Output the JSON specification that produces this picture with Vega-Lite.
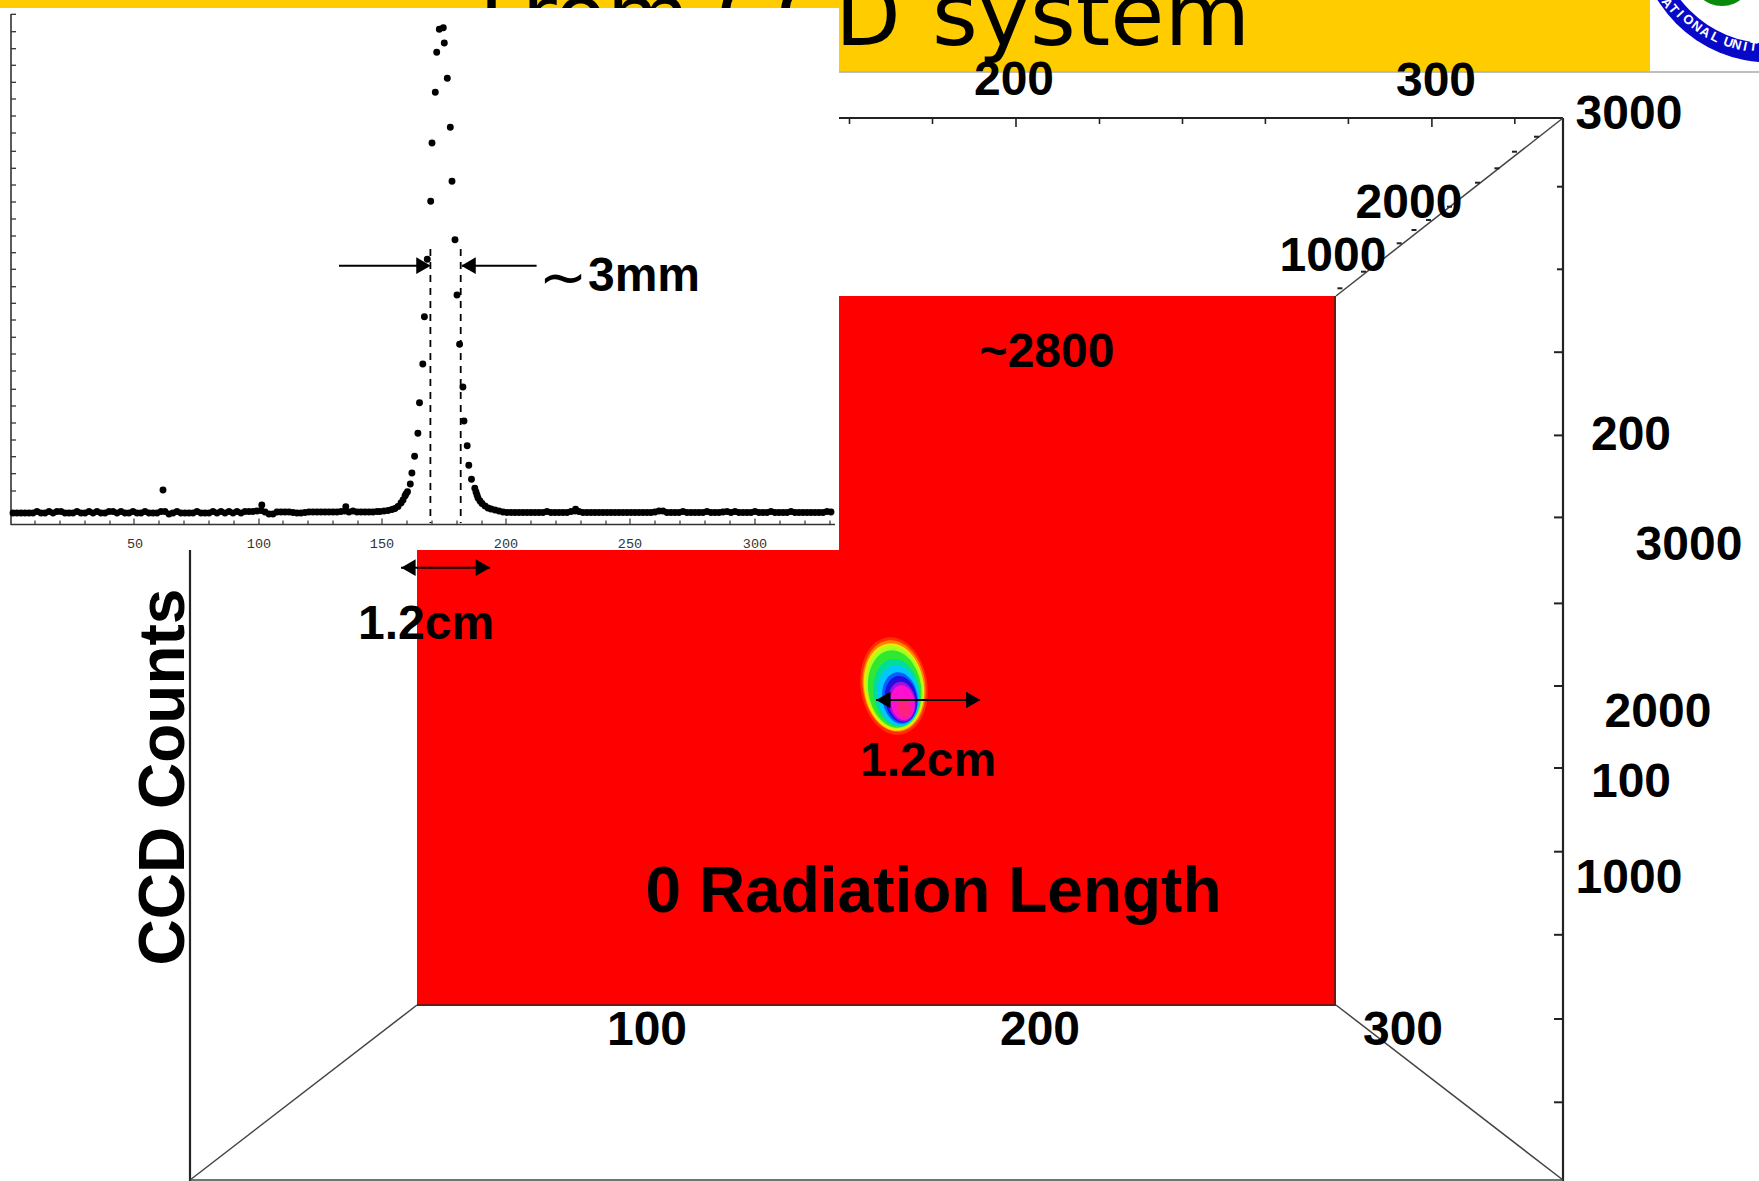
{"$schema":"https://vega.github.io/schema/vega-lite/v6.json","width":1759,"height":1181,"autosize":{"type":"none"},"padding":0,"background":"white","config":{"view":{"stroke":null}},
"encoding":{"x":{"field":"x","type":"quantitative","scale":{"domain":[0,1759],"nice":false,"zero":false},"axis":null},"y":{"field":"y","type":"quantitative","scale":{"domain":[1181,0],"nice":false,"zero":false},"axis":null}},
"layer":[
{"data":{"values":[{"x":0,"x2":1650,"y":0,"y2":71.5}]},"mark":{"type":"rect","color":"#FFCC00"},"encoding":{"x2":{"field":"x2"},"y2":{"field":"y2"}}},
{"data":{"values":[{"x":479,"y":45,"t":"From CCD"}]},"mark":{"type":"text","font":"DejaVu Sans","fontSize":85,"align":"left","baseline":"alphabetic","color":"black"},"encoding":{"text":{"field":"t"}}},
{"data":{"values":[{"x":932,"y":45,"t":"system"}]},"mark":{"type":"text","font":"DejaVu Sans","fontSize":88,"align":"left","baseline":"alphabetic","color":"black"},"encoding":{"text":{"field":"t"}}},
{"data":{"values":[{"x":839,"x2":1759,"y":72,"y2":72}]},"mark":{"type":"rule","color":"#a8a8a8","strokeWidth":1.5},"encoding":{"x2":{"field":"x2"},"y2":{"field":"y2"}}},
{"data":{"values":[{"x":1770,"y":-70}]},"mark":{"type":"point","shape":"circle","filled":true,"color":"#0808c8","size":70225,"opacity":1,"strokeWidth":0}},
{"data":{"values":[{"x":1770,"y":-70}]},"mark":{"type":"point","shape":"circle","filled":true,"color":"white","size":51529,"opacity":1,"strokeWidth":0}},
{"data":{"values":[{"x":1722,"y":-25}]},"mark":{"type":"point","shape":"circle","filled":true,"color":"#0a8a0a","size":3844,"opacity":1,"strokeWidth":0}},
{"data":{"values":[{"x":1667,"y":3,"t":"A","a":55},{"x":1673.3,"y":9.3,"t":"T","a":51},{"x":1680,"y":14,"t":"I","a":47},{"x":1688.3,"y":20,"t":"O","a":42},{"x":1696.7,"y":26.7,"t":"N","a":37},{"x":1705,"y":32.3,"t":"A","a":32},{"x":1715,"y":37.3,"t":"L","a":27},{"x":1728.3,"y":42.7,"t":"U","a":20},{"x":1736.7,"y":45,"t":"N","a":16},{"x":1745,"y":46.7,"t":"I","a":12},{"x":1753.3,"y":46.7,"t":"T","a":8}]},"mark":{"type":"text","font":"Liberation Sans","fontWeight":"bold","fontSize":13,"color":"white","align":"center","baseline":"middle"},"encoding":{"text":{"field":"t"},"angle":{"field":"a","type":"quantitative","scale":null}}},
{"data":{"values":[{"x":190,"y":118,"x2":190,"y2":1181},{"x":190,"y":118,"x2":1563,"y2":118},{"x":1563,"y":118,"x2":1563,"y2":1181}]},"mark":{"type":"rule","color":"#222222","strokeWidth":2.2},"encoding":{"x2":{"field":"x2"},"y2":{"field":"y2"}}},
{"data":{"values":[{"x":190,"y":1180,"x2":1563,"y2":1180},{"x":1563,"y":118,"x2":1336,"y2":296},{"x":1336,"y":1005,"x2":1563,"y2":1180},{"x":417,"y":1005,"x2":190,"y2":1180}]},"mark":{"type":"rule","color":"#444444","strokeWidth":1.5},"encoding":{"x2":{"field":"x2"},"y2":{"field":"y2"}}},
{"data":{"values":[{"x":849.5,"y":118,"y2":124},{"x":932.5,"y":118,"y2":124},{"x":1016,"y":118,"y2":127},{"x":1099.5,"y":118,"y2":124},{"x":1182.5,"y":118,"y2":124},{"x":1265.4,"y":118,"y2":124},{"x":1348.4,"y":118,"y2":124},{"x":1431.9,"y":118,"y2":127},{"x":1514.8,"y":118,"y2":124}]},"mark":{"type":"rule","color":"#222222","strokeWidth":1.6},"encoding":{"y2":{"field":"y2"}}},
{"data":{"values":[{"y":186.7,"x":1557,"x2":1563},{"y":269.3,"x":1557,"x2":1563},{"y":352.2,"x":1554,"x2":1563},{"y":435.4,"x":1554,"x2":1563},{"y":517.4,"x":1554,"x2":1563},{"y":603.4,"x":1554,"x2":1563},{"y":686,"x":1554,"x2":1563},{"y":768,"x":1554,"x2":1563},{"y":851.7,"x":1554,"x2":1563},{"y":934.8,"x":1554,"x2":1563},{"y":1019,"x":1554,"x2":1563},{"y":1102.3,"x":1554,"x2":1563},{"y":136.7,"x":1534,"x2":1539},{"y":151.7,"x":1512,"x2":1517},{"y":168.3,"x":1494.4,"x2":1499.4},{"y":182.7,"x":1475,"x2":1480},{"y":206.7,"x":1447,"x2":1452},{"y":220,"x":1426,"x2":1431},{"y":230,"x":1411.5,"x2":1416.5},{"y":243.3,"x":1396.7,"x2":1401.7},{"y":271.7,"x":1361,"x2":1366},{"y":288.3,"x":1337.4,"x2":1342.4}]},"mark":{"type":"rule","color":"#222222","strokeWidth":2},"encoding":{"x2":{"field":"x2"}}},
{"data":{"values":[{"x":417,"x2":1336,"y":296,"y2":1005}]},"mark":{"type":"rect","color":"#FF0000"},"encoding":{"x2":{"field":"x2"},"y2":{"field":"y2"}}},
{"data":{"values":[{"x":1335,"y":296,"x2":1335,"y2":1005},{"x":417,"y":1005,"x2":1336,"y2":1005}]},"mark":{"type":"rule","color":"#6e1a12","strokeWidth":2},"encoding":{"x2":{"field":"x2"},"y2":{"field":"y2"}}},
{"data":{"values":[{"x":894,"y":686,"level":"a"},{"x":894,"y":686,"level":"b"},{"x":894,"y":687,"level":"c"},{"x":894.5,"y":687,"level":"d"},{"x":894.7,"y":689,"level":"e"},{"x":896.7,"y":692.7,"level":"f"},{"x":898.3,"y":695.7,"level":"g"},{"x":900,"y":698,"level":"h"},{"x":901,"y":699.3,"level":"i"},{"x":902,"y":701.7,"level":"j"},{"x":902.7,"y":702.7,"level":"k"},{"x":904,"y":708.3,"level":"l"}]},"mark":{"type":"point","shape":"M0,-1A0.68,1,0,1,1,0,1A0.68,1,0,1,1,0,-1Z","filled":true,"opacity":1,"strokeWidth":0,"angle":352},"encoding":{"color":{"field":"level","type":"nominal","legend":null,"scale":{"domain":["a","b","c","d","e","f","g","h","i","j","k","l"],"range":["#ff3000","#ff8000","#ffe000","#a8ff20","#30e830","#00dd99","#00c8ff","#0060ff","#2010e0","#a010e0","#ff10d0","#ff2080"]}},"size":{"field":"level","type":"nominal","legend":null,"scale":{"type":"ordinal","domain":["a","b","c","d","e","f","g","h","i","j","k","l"],"range":[9604,8464,7744,7056,6084,4624,3721,2704,2209,1600,1225,400]}}}},
{"data":{"values":[{"x":0,"x2":839,"y":8,"y2":550}]},"mark":{"type":"rect","color":"white"},"encoding":{"x2":{"field":"x2"},"y2":{"field":"y2"}}},
{"data":{"values":[{"x":11,"y":14,"x2":11,"y2":525},{"x":11,"y":524.5,"x2":835,"y2":524.5}]},"mark":{"type":"rule","color":"#333333","strokeWidth":1.6},"encoding":{"x2":{"field":"x2"},"y2":{"field":"y2"}}},
{"data":{"values":[{"x":11,"x2":16,"y":14.3},{"x":11,"x2":16,"y":31.7},{"x":11,"x2":16,"y":48.7},{"x":11,"x2":16,"y":65.3},{"x":11,"x2":16,"y":82.3},{"x":11,"x2":16,"y":99},{"x":11,"x2":16,"y":116},{"x":11,"x2":16,"y":133},{"x":11,"x2":16,"y":151.3},{"x":11,"x2":16,"y":168.3},{"x":11,"x2":16,"y":185},{"x":11,"x2":16,"y":202},{"x":11,"x2":16,"y":219},{"x":11,"x2":16,"y":236},{"x":11,"x2":16,"y":252.7},{"x":11,"x2":16,"y":269.3},{"x":11,"x2":16,"y":286.7},{"x":11,"x2":16,"y":303.3},{"x":11,"x2":16,"y":320},{"x":11,"x2":16,"y":337.3},{"x":11,"x2":16,"y":354},{"x":11,"x2":16,"y":371},{"x":11,"x2":16,"y":389.3},{"x":11,"x2":16,"y":406},{"x":11,"x2":16,"y":423},{"x":11,"x2":16,"y":440},{"x":11,"x2":16,"y":456.7},{"x":11,"x2":16,"y":473.7},{"x":11,"x2":16,"y":491}]},"mark":{"type":"rule","color":"#333333","strokeWidth":1.3},"encoding":{"x2":{"field":"x2"}}},
{"data":{"values":[{"y":524,"y2":520.5,"x":35},{"y":524,"y2":520.5,"x":60},{"y":524,"y2":520.5,"x":85},{"y":524,"y2":520.5,"x":110},{"y":524,"y2":518.5,"x":134},{"y":524,"y2":520.5,"x":159},{"y":524,"y2":520.5,"x":184},{"y":524,"y2":520.5,"x":209},{"y":524,"y2":520.5,"x":234},{"y":524,"y2":518.5,"x":259},{"y":524,"y2":520.5,"x":283},{"y":524,"y2":520.5,"x":308},{"y":524,"y2":520.5,"x":333},{"y":524,"y2":520.5,"x":358},{"y":524,"y2":518.5,"x":382},{"y":524,"y2":520.5,"x":407},{"y":524,"y2":520.5,"x":432},{"y":524,"y2":520.5,"x":457},{"y":524,"y2":520.5,"x":482},{"y":524,"y2":518.5,"x":506},{"y":524,"y2":520.5,"x":531},{"y":524,"y2":520.5,"x":556},{"y":524,"y2":520.5,"x":581},{"y":524,"y2":520.5,"x":606},{"y":524,"y2":518.5,"x":630},{"y":524,"y2":520.5,"x":655},{"y":524,"y2":520.5,"x":680},{"y":524,"y2":520.5,"x":705},{"y":524,"y2":520.5,"x":730},{"y":524,"y2":518.5,"x":755},{"y":524,"y2":520.5,"x":780},{"y":524,"y2":520.5,"x":805},{"y":524,"y2":520.5,"x":830}]},"mark":{"type":"rule","color":"#333333","strokeWidth":1.2},"encoding":{"y2":{"field":"y2"}}},
{"data":{"values":[{"x":430.4,"y":249,"x2":430.4,"y2":523},{"x":460.7,"y":249,"x2":460.7,"y2":523}]},"mark":{"type":"rule","color":"black","strokeWidth":1.8,"strokeDash":[7,6]},"encoding":{"x2":{"field":"x2"},"y2":{"field":"y2"}}},
{"data":{"values":[{"x":443.3,"y":27.7},{"x":439.3,"y":29.3},{"x":444.3,"y":43},{"x":436.7,"y":52.3},{"x":447.3,"y":78.3},{"x":435.3,"y":92.3},{"x":450.3,"y":127.3},{"x":432,"y":143},{"x":452,"y":181.3},{"x":430.7,"y":201.3},{"x":455,"y":239.7},{"x":427.3,"y":259.3},{"x":457,"y":295},{"x":424.4,"y":316.7},{"x":459.6,"y":344.3},{"x":422.8,"y":364},{"x":462.9,"y":387},{"x":419.5,"y":402.7},{"x":464,"y":421},{"x":417.9,"y":433.3},{"x":467.2,"y":445.7},{"x":414.6,"y":456.3},{"x":468.8,"y":465.3},{"x":411.9,"y":473},{"x":471.5,"y":479.3},{"x":410.3,"y":484},{"x":474.8,"y":488.3},{"x":407.5,"y":491.7},{"x":406,"y":494},{"x":405,"y":496},{"x":403,"y":500},{"x":401,"y":503},{"x":398,"y":506.5},{"x":395,"y":508.5},{"x":392,"y":509.5},{"x":388,"y":510.5},{"x":384,"y":511},{"x":380,"y":511.5},{"x":476,"y":492},{"x":477,"y":495},{"x":478,"y":498},{"x":480,"y":501},{"x":482,"y":503.5},{"x":485,"y":506},{"x":488,"y":508},{"x":491,"y":509},{"x":495,"y":510},{"x":499,"y":511},{"x":503,"y":512},{"x":163,"y":490},{"x":261.8,"y":505},{"x":345.8,"y":506.7},{"x":575.6,"y":509.3},
{"x":13,"y":513},{"x":17,"y":513},{"x":21,"y":513},{"x":25,"y":513},{"x":29,"y":513},{"x":33,"y":513},{"x":37,"y":511.5},{"x":41,"y":513},{"x":45,"y":513},{"x":49,"y":511.5},{"x":53,"y":513},{"x":57,"y":511.5},{"x":61,"y":511.5},{"x":65,"y":513},{"x":69,"y":513},{"x":73,"y":513},{"x":77,"y":511.5},{"x":81,"y":513},{"x":85,"y":513},{"x":89,"y":511.5},{"x":93,"y":513},{"x":97,"y":511.5},{"x":101,"y":513},{"x":105,"y":513},{"x":109,"y":511.5},{"x":113,"y":511.5},{"x":117,"y":513},{"x":121,"y":511.5},{"x":125,"y":513},{"x":129,"y":513},{"x":133,"y":511.5},{"x":137,"y":513},{"x":141,"y":513},{"x":145,"y":511.5},{"x":149,"y":513},{"x":153,"y":513},{"x":157,"y":513},{"x":161,"y":511.5},{"x":165,"y":511.5},{"x":169,"y":514},{"x":173,"y":513},{"x":177,"y":511.5},{"x":181,"y":513},{"x":185,"y":513},{"x":189,"y":513},{"x":193,"y":513},{"x":197,"y":511.5},{"x":201,"y":513},{"x":205,"y":513},{"x":209,"y":513},{"x":213,"y":511.5},{"x":217,"y":513},{"x":221,"y":511.5},{"x":225,"y":513},{"x":229,"y":511.5},{"x":233,"y":513},{"x":237,"y":511.5},{"x":241,"y":513},{"x":245,"y":511.5},{"x":249,"y":511.5},{"x":253,"y":511.5},{"x":257,"y":511},{"x":261,"y":510.5},{"x":265,"y":512},{"x":269,"y":514},{"x":273,"y":514},{"x":277,"y":512},{"x":281,"y":512},{"x":285,"y":512},{"x":289,"y":512},{"x":293,"y":512.5},{"x":297,"y":513},{"x":301,"y":513},{"x":305,"y":512.5},{"x":309,"y":512},{"x":313,"y":512},{"x":317,"y":512},{"x":321,"y":512},{"x":325,"y":512},{"x":329,"y":512},{"x":333,"y":512},{"x":337,"y":512},{"x":341,"y":511.5},{"x":345,"y":511},{"x":349,"y":512},{"x":353,"y":511},{"x":357,"y":512},{"x":361,"y":512},{"x":365,"y":512},{"x":369,"y":512},{"x":373,"y":512},{"x":377,"y":511.5},
{"x":507,"y":512.5},{"x":511,"y":512.5},{"x":515,"y":512.5},{"x":519,"y":512.5},{"x":523,"y":512.5},{"x":527,"y":512.5},{"x":531,"y":512.5},{"x":535,"y":512.5},{"x":539,"y":512.5},{"x":543,"y":512.5},{"x":547,"y":511.5},{"x":551,"y":512.5},{"x":555,"y":512.5},{"x":559,"y":512.5},{"x":563,"y":512.5},{"x":567,"y":512.5},{"x":571,"y":511.5},{"x":575,"y":511},{"x":579,"y":511.5},{"x":583,"y":512.5},{"x":587,"y":512.5},{"x":591,"y":512.5},{"x":595,"y":512.5},{"x":599,"y":512.5},{"x":603,"y":512.5},{"x":607,"y":512.5},{"x":611,"y":512.5},{"x":615,"y":512.5},{"x":619,"y":512.5},{"x":623,"y":512.5},{"x":627,"y":512.5},{"x":631,"y":512.5},{"x":635,"y":512.5},{"x":639,"y":512.5},{"x":643,"y":512.5},{"x":647,"y":512.5},{"x":651,"y":512.5},{"x":655,"y":512},{"x":659,"y":511},{"x":663,"y":511},{"x":667,"y":512.5},{"x":671,"y":512.5},{"x":675,"y":512.5},{"x":679,"y":512.5},{"x":683,"y":511.5},{"x":687,"y":512.5},{"x":691,"y":512.5},{"x":695,"y":512.5},{"x":699,"y":512.5},{"x":703,"y":512.5},{"x":707,"y":511.5},{"x":711,"y":512.5},{"x":715,"y":512.5},{"x":719,"y":512.5},{"x":723,"y":512},{"x":727,"y":511.5},{"x":731,"y":512.5},{"x":735,"y":511.5},{"x":739,"y":512.5},{"x":743,"y":512.5},{"x":747,"y":512.5},{"x":751,"y":512.5},{"x":755,"y":511.5},{"x":759,"y":512.5},{"x":763,"y":512.5},{"x":767,"y":512.5},{"x":771,"y":511.5},{"x":775,"y":512.5},{"x":779,"y":512.5},{"x":783,"y":512.5},{"x":787,"y":512.5},{"x":791,"y":511.5},{"x":795,"y":512.5},{"x":799,"y":512.5},{"x":803,"y":512.5},{"x":807,"y":512.5},{"x":811,"y":512.5},{"x":815,"y":512.5},{"x":819,"y":512.5},{"x":823,"y":512.5},{"x":827,"y":511.5},{"x":831,"y":512}]},"mark":{"type":"point","shape":"circle","filled":true,"color":"black","size":48,"opacity":1,"strokeWidth":0}},
{"data":{"values":[{"x":339,"y":265.7,"x2":428,"y2":265.7},{"x":462,"y":265.7,"x2":536.6,"y2":265.7},{"x":401,"y":567.7,"x2":490,"y2":567.7},{"x":876,"y":700,"x2":980,"y2":700}]},"mark":{"type":"rule","color":"black","strokeWidth":2},"encoding":{"x2":{"field":"x2"},"y2":{"field":"y2"}}},
{"data":{"values":[{"x":423.5,"y":265.7},{"x":483,"y":567.7},{"x":973.3,"y":700}]},"mark":{"type":"point","shape":"triangle-right","filled":true,"color":"black","size":280,"opacity":1,"strokeWidth":0}},
{"data":{"values":[{"x":468.5,"y":265.7},{"x":408.4,"y":567.7},{"x":883.3,"y":700}]},"mark":{"type":"point","shape":"triangle-left","filled":true,"color":"black","size":280,"opacity":1,"strokeWidth":0}},
{"data":{"values":[{"x":135,"y":544,"t":"50"},{"x":259,"y":544,"t":"100"},{"x":382,"y":544,"t":"150"},{"x":506,"y":544,"t":"200"},{"x":630,"y":544,"t":"250"},{"x":755,"y":544,"t":"300"}]},"mark":{"type":"text","font":"Liberation Mono","fontSize":13.5,"color":"#333333","align":"center","baseline":"middle"},"encoding":{"text":{"field":"t"}}},
{"data":{"values":[{"x":563,"y":280,"t":"∼"}]},"mark":{"type":"text","font":"DejaVu Sans","fontSize":58,"color":"black","align":"center","baseline":"middle"},"encoding":{"text":{"field":"t"}}},
{"data":{"values":[{"x":1014,"y":81,"t":"200"},{"x":1436,"y":82,"t":"300"},{"x":1629,"y":115,"t":"3000"},{"x":1409,"y":204,"t":"2000"},{"x":1333,"y":257,"t":"1000"},{"x":1631,"y":436,"t":"200"},{"x":1689,"y":546,"t":"3000"},{"x":1658,"y":713,"t":"2000"},{"x":1631,"y":783,"t":"100"},{"x":1629,"y":879,"t":"1000"},{"x":647,"y":1031,"t":"100"},{"x":1040,"y":1031,"t":"200"},{"x":1403,"y":1031,"t":"300"},{"x":1047,"y":353,"t":"~2800"},{"x":426,"y":625,"t":"1.2cm"},{"x":928,"y":762,"t":"1.2cm"},{"x":644,"y":277,"t":"3mm"}]},"mark":{"type":"text","font":"Liberation Sans","fontWeight":"bold","fontSize":48,"color":"black","align":"center","baseline":"middle"},"encoding":{"text":{"field":"t"}}},
{"data":{"values":[{"x":933.5,"y":893,"t":"0 Radiation Length"}]},"mark":{"type":"text","font":"Liberation Sans","fontWeight":"bold","fontSize":64,"color":"black","align":"center","baseline":"middle"},"encoding":{"text":{"field":"t"}}},
{"data":{"values":[{"x":165,"y":777,"t":"CCD Counts"}]},"mark":{"type":"text","font":"Liberation Sans","fontWeight":"bold","fontSize":64,"color":"black","align":"center","baseline":"middle","angle":270},"encoding":{"text":{"field":"t"}}}
]}
